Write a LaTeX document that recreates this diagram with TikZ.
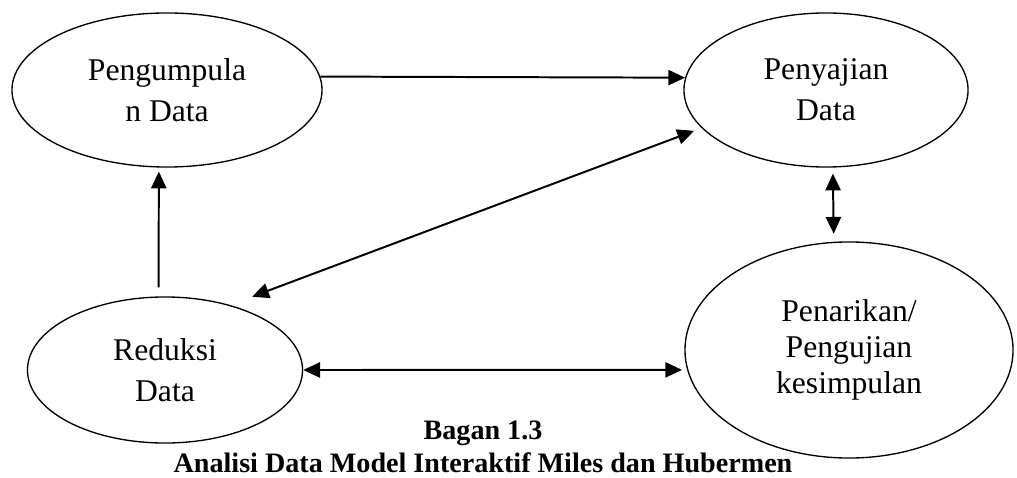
\documentclass[tikz,border=0pt]{standalone}
\usepackage{fontspec}
\setmainfont{Liberation Serif}
\usetikzlibrary{shapes.geometric,arrows.meta}

\tikzset{
    stage/.style={draw, ellipse, line width=0.95pt, inner sep=0pt, align=center,
        font=\fontsize{22.5}{29.2}\selectfont},
    arr/.style={line width=1.4pt, -{Triangle[length=0.42cm, width=0.38cm]}},
    biarr/.style={line width=1.4pt, {Triangle[length=0.42cm, width=0.38cm]}-{Triangle[length=0.42cm, width=0.38cm]}}
}

\begin{document}
\begin{tikzpicture}[x=0.025cm, y=-0.025cm]
    \useasboundingbox (0,0) rectangle (1017,478);

    % Ellipses
    \node[stage, minimum width=7.75cm, minimum height=3.85cm] (pengumpulan) at (167,90) {Pengumpula\\n Data};
    \node[stage, minimum width=7.1cm, minimum height=3.85cm] (penyajian) at (826,90) {Penyajian\\Data};
    \node[stage, minimum width=6.875cm, minimum height=3.65cm] (reduksi) at (165,370) {Reduksi\\Data};
    \node[stage, minimum width=8.2cm, minimum height=5.4cm, font=\fontsize{22.5}{25.6}\selectfont] (penarikan) at (849,350) {Penarikan/\\Pengujian\\kesimpulan};

    % Caption
    \node[align=center, font=\bfseries\fontsize{20}{23.4}\selectfont] (caption) at (483,447) {Bagan 1.3\\Analisi Data Model Interaktif Miles dan Hubermen};

    % Arrows
    \draw[arr] (pengumpulan.5) -- (penyajian.175);
    \draw[arr, shorten <=0.225cm, shorten >=0.1cm] (reduksi.95) -- (pengumpulan.264);
    \draw[biarr, shorten <=0.59cm, shorten >=0.2cm] (reduksi.45) -- (penyajian.197);
    \draw[biarr, shorten <=0.15cm, shorten >=0.2cm] (penyajian.275) -- (penarikan.98);
    \draw[biarr, shorten >=0.125cm] (reduksi.east) -- (penarikan.187);
\end{tikzpicture}
\end{document}
